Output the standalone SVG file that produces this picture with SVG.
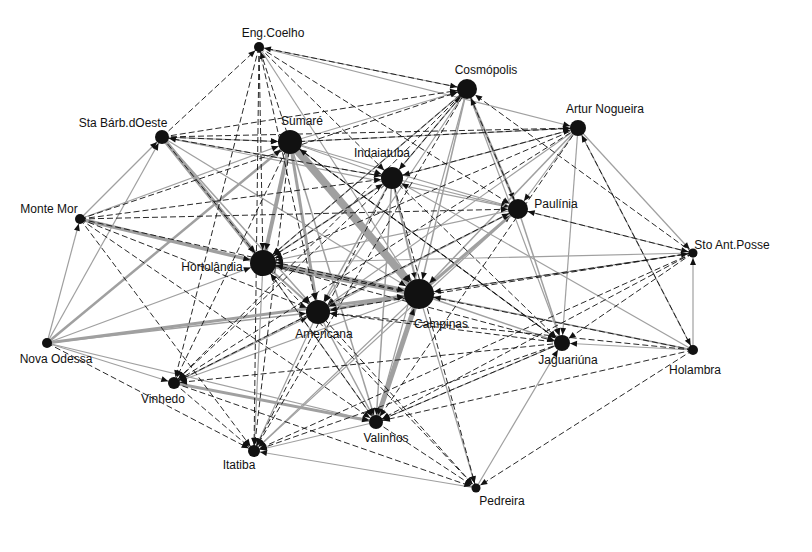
<svg xmlns="http://www.w3.org/2000/svg" width="812" height="552" viewBox="0 0 812 552">
<style>
.g{stroke:#a0a0a0;fill:none;stroke-width:1.2}
.w15{stroke-width:1.5}
.w2{stroke-width:2}
.w25{stroke-width:2.5}
.w3{stroke-width:3}
.w35{stroke-width:3.5}
.w4{stroke-width:4}
.w5{stroke-width:5}
.w6{stroke-width:6}
.w8{stroke-width:8}
.d{stroke:#111;fill:none;stroke-width:0.9;stroke-dasharray:6 3}
.n{fill:#111}
.t{font-family:"Liberation Sans","DejaVu Sans",sans-serif;font-size:12px;fill:#111;text-anchor:middle}
</style>
<defs>
<marker id="m5" markerWidth="8" markerHeight="8" refX="12" refY="0" orient="auto" markerUnits="userSpaceOnUse" overflow="visible"><path d="M0,-3L7,0L0,3z" fill="#111"/></marker>
<marker id="m6" markerWidth="8" markerHeight="8" refX="13" refY="0" orient="auto" markerUnits="userSpaceOnUse" overflow="visible"><path d="M0,-3L7,0L0,3z" fill="#111"/></marker>
<marker id="m7" markerWidth="8" markerHeight="8" refX="14" refY="0" orient="auto" markerUnits="userSpaceOnUse" overflow="visible"><path d="M0,-3L7,0L0,3z" fill="#111"/></marker>
<marker id="m8" markerWidth="8" markerHeight="8" refX="15" refY="0" orient="auto" markerUnits="userSpaceOnUse" overflow="visible"><path d="M0,-3L7,0L0,3z" fill="#111"/></marker>
<marker id="m10" markerWidth="8" markerHeight="8" refX="17" refY="0" orient="auto" markerUnits="userSpaceOnUse" overflow="visible"><path d="M0,-3L7,0L0,3z" fill="#111"/></marker>
<marker id="m11" markerWidth="8" markerHeight="8" refX="18" refY="0" orient="auto" markerUnits="userSpaceOnUse" overflow="visible"><path d="M0,-3L7,0L0,3z" fill="#111"/></marker>
<marker id="m12" markerWidth="8" markerHeight="8" refX="19" refY="0" orient="auto" markerUnits="userSpaceOnUse" overflow="visible"><path d="M0,-3L7,0L0,3z" fill="#111"/></marker>
<marker id="m13" markerWidth="8" markerHeight="8" refX="20" refY="0" orient="auto" markerUnits="userSpaceOnUse" overflow="visible"><path d="M0,-3L7,0L0,3z" fill="#111"/></marker>
<marker id="m15" markerWidth="8" markerHeight="8" refX="22" refY="0" orient="auto" markerUnits="userSpaceOnUse" overflow="visible"><path d="M0,-3L7,0L0,3z" fill="#111"/></marker>
</defs>
<rect width="812" height="552" fill="#fff"/>
<g id="connectors">
<g id="gray-edges">
<line class="g w8" x1="290" y1="142" x2="419" y2="294" marker-end="url(#m15)"/>
<line class="g w6" x1="419" y1="294" x2="263" y2="263" marker-end="url(#m13)"/>
<line class="g w4" x1="290" y1="142" x2="263" y2="263" marker-end="url(#m13)"/>
<line class="g w4" x1="162" y1="137" x2="263" y2="263" marker-end="url(#m13)"/>
<line class="g w5" x1="376" y1="422" x2="419" y2="294" marker-end="url(#m15)"/>
<line class="g w35" x1="80" y1="219" x2="263" y2="263" marker-end="url(#m13)"/>
<line class="g w3" x1="47" y1="343" x2="419" y2="294" marker-end="url(#m15)"/>
<line class="g w3" x1="174" y1="383" x2="376" y2="422" marker-end="url(#m7)"/>
<line class="g w3" x1="318" y1="312" x2="419" y2="294" marker-end="url(#m15)"/>
<line class="g w3" x1="419" y1="294" x2="518" y2="209" marker-end="url(#m10)"/>
<line class="g w2" x1="392" y1="178" x2="419" y2="294" marker-end="url(#m15)"/>
<line class="g w3" x1="290" y1="142" x2="318" y2="312" marker-end="url(#m12)"/>
<line class="g w2" x1="263" y1="263" x2="318" y2="312" marker-end="url(#m12)"/>
<line class="g w25" x1="467" y1="89" x2="518" y2="209" marker-end="url(#m10)"/>
<line class="g" x1="259" y1="47" x2="467" y2="89" marker-end="url(#m10)"/>
<line class="g" x1="259" y1="47" x2="578" y2="128" marker-end="url(#m8)"/>
<line class="g" x1="259" y1="47" x2="419" y2="294" marker-end="url(#m15)"/>
<line class="g" x1="162" y1="137" x2="290" y2="142" marker-end="url(#m12)"/>
<line class="g" x1="162" y1="137" x2="392" y2="178" marker-end="url(#m11)"/>
<line class="g" x1="162" y1="137" x2="419" y2="294" marker-end="url(#m15)"/>
<line class="g w15" x1="162" y1="137" x2="318" y2="312" marker-end="url(#m12)"/>
<line class="g" x1="162" y1="137" x2="518" y2="209" marker-end="url(#m10)"/>
<line class="g" x1="290" y1="142" x2="467" y2="89" marker-end="url(#m10)"/>
<line class="g" x1="290" y1="142" x2="578" y2="128" marker-end="url(#m8)"/>
<line class="g" x1="290" y1="142" x2="392" y2="178" marker-end="url(#m11)"/>
<line class="g" x1="290" y1="142" x2="518" y2="209" marker-end="url(#m10)"/>
<line class="g w15" x1="290" y1="142" x2="376" y2="422" marker-end="url(#m7)"/>
<line class="g" x1="290" y1="142" x2="562" y2="343" marker-end="url(#m8)"/>
<line class="g" x1="392" y1="178" x2="467" y2="89" marker-end="url(#m10)"/>
<line class="g" x1="392" y1="178" x2="578" y2="128" marker-end="url(#m8)"/>
<line class="g" x1="392" y1="178" x2="518" y2="209" marker-end="url(#m10)"/>
<line class="g w15" x1="392" y1="178" x2="318" y2="312" marker-end="url(#m12)"/>
<line class="g w15" x1="392" y1="178" x2="263" y2="263" marker-end="url(#m13)"/>
<line class="g w15" x1="392" y1="178" x2="376" y2="422" marker-end="url(#m7)"/>
<line class="g w15" x1="467" y1="89" x2="419" y2="294" marker-end="url(#m15)"/>
<line class="g" x1="467" y1="89" x2="318" y2="312" marker-end="url(#m12)"/>
<line class="g" x1="467" y1="89" x2="263" y2="263" marker-end="url(#m13)"/>
<line class="g" x1="467" y1="89" x2="562" y2="343" marker-end="url(#m8)"/>
<line class="g" x1="467" y1="89" x2="376" y2="422" marker-end="url(#m7)"/>
<line class="g" x1="578" y1="128" x2="518" y2="209" marker-end="url(#m10)"/>
<line class="g w15" x1="578" y1="128" x2="419" y2="294" marker-end="url(#m15)"/>
<line class="g" x1="578" y1="128" x2="562" y2="343" marker-end="url(#m8)"/>
<line class="g" x1="578" y1="128" x2="693" y2="253" marker-end="url(#m5)"/>
<line class="g" x1="578" y1="128" x2="693" y2="350" marker-end="url(#m5)"/>
<line class="g" x1="578" y1="128" x2="318" y2="312" marker-end="url(#m12)"/>
<line class="g w15" x1="518" y1="209" x2="562" y2="343" marker-end="url(#m8)"/>
<line class="g" x1="693" y1="253" x2="518" y2="209" marker-end="url(#m10)"/>
<line class="g" x1="518" y1="209" x2="263" y2="263" marker-end="url(#m13)"/>
<line class="g" x1="518" y1="209" x2="318" y2="312" marker-end="url(#m12)"/>
<line class="g" x1="518" y1="209" x2="254" y2="451" marker-end="url(#m6)"/>
<line class="g" x1="80" y1="219" x2="290" y2="142" marker-end="url(#m12)"/>
<line class="g" x1="80" y1="219" x2="162" y2="137" marker-end="url(#m7)"/>
<line class="g" x1="47" y1="343" x2="80" y2="219" marker-end="url(#m5)"/>
<line class="g" x1="47" y1="343" x2="162" y2="137" marker-end="url(#m7)"/>
<line class="g" x1="47" y1="343" x2="263" y2="263" marker-end="url(#m13)"/>
<line class="g w15" x1="47" y1="343" x2="318" y2="312" marker-end="url(#m12)"/>
<line class="g" x1="47" y1="343" x2="376" y2="422" marker-end="url(#m7)"/>
<line class="g w25" x1="47" y1="343" x2="290" y2="142" marker-end="url(#m12)"/>
<line class="g" x1="47" y1="343" x2="174" y2="383" marker-end="url(#m6)"/>
<line class="g" x1="263" y1="263" x2="376" y2="422" marker-end="url(#m7)"/>
<line class="g" x1="263" y1="263" x2="254" y2="451" marker-end="url(#m6)"/>
<line class="g w15" x1="419" y1="294" x2="562" y2="343" marker-end="url(#m8)"/>
<line class="g w15" x1="693" y1="350" x2="419" y2="294" marker-end="url(#m15)"/>
<line class="g" x1="693" y1="253" x2="419" y2="294" marker-end="url(#m15)"/>
<line class="g" x1="419" y1="294" x2="254" y2="451" marker-end="url(#m6)"/>
<line class="g" x1="419" y1="294" x2="476" y2="488" marker-end="url(#m5)"/>
<line class="g" x1="419" y1="294" x2="174" y2="383" marker-end="url(#m6)"/>
<line class="g w15" x1="318" y1="312" x2="376" y2="422" marker-end="url(#m7)"/>
<line class="g" x1="318" y1="312" x2="254" y2="451" marker-end="url(#m6)"/>
<line class="g" x1="174" y1="383" x2="318" y2="312" marker-end="url(#m12)"/>
<line class="g" x1="693" y1="350" x2="562" y2="343" marker-end="url(#m8)"/>
<line class="g" x1="693" y1="350" x2="693" y2="253" marker-end="url(#m5)"/>
<line class="g" x1="476" y1="488" x2="562" y2="343" marker-end="url(#m8)"/>
<line class="g" x1="376" y1="422" x2="254" y2="451" marker-end="url(#m6)"/>
<line class="g" x1="476" y1="488" x2="254" y2="451" marker-end="url(#m6)"/>
<line class="g" x1="174" y1="383" x2="518" y2="209" marker-end="url(#m10)"/>
<line class="g" x1="693" y1="350" x2="392" y2="178" marker-end="url(#m11)"/>
<line class="g" x1="562" y1="343" x2="376" y2="422" marker-end="url(#m7)"/>
<line class="g" x1="693" y1="253" x2="263" y2="263" marker-end="url(#m13)"/>
</g>
<g id="dashed-edges">
<line class="d" x1="162" y1="137" x2="259" y2="47" marker-end="url(#m5)"/>
<line class="d" x1="290" y1="142" x2="259" y2="47" marker-end="url(#m5)"/>
<line class="d" x1="259" y1="47" x2="392" y2="178" marker-end="url(#m11)"/>
<line class="d" x1="259" y1="47" x2="518" y2="209" marker-end="url(#m10)"/>
<line class="d" x1="259" y1="47" x2="263" y2="263" marker-end="url(#m13)"/>
<line class="d" x1="259" y1="47" x2="174" y2="383" marker-end="url(#m6)"/>
<line class="d" x1="259" y1="47" x2="254" y2="451" marker-end="url(#m6)"/>
<line class="d" x1="467" y1="89" x2="259" y2="47" marker-end="url(#m5)"/>
<line class="d" x1="259" y1="47" x2="318" y2="312" marker-end="url(#m12)"/>
<line class="d" x1="162" y1="137" x2="467" y2="89" marker-end="url(#m10)"/>
<line class="d" x1="162" y1="137" x2="578" y2="128" marker-end="url(#m8)"/>
<line class="d" x1="392" y1="178" x2="162" y2="137" marker-end="url(#m7)"/>
<line class="d" x1="162" y1="137" x2="290" y2="142" marker-end="url(#m12)"/>
<line class="d" x1="162" y1="137" x2="263" y2="263" marker-end="url(#m13)"/>
<line class="d" x1="80" y1="219" x2="392" y2="178" marker-end="url(#m11)"/>
<line class="d" x1="80" y1="219" x2="518" y2="209" marker-end="url(#m10)"/>
<line class="d" x1="80" y1="219" x2="318" y2="312" marker-end="url(#m12)"/>
<line class="d" x1="80" y1="219" x2="376" y2="422" marker-end="url(#m7)"/>
<line class="d" x1="80" y1="219" x2="254" y2="451" marker-end="url(#m6)"/>
<line class="d" x1="80" y1="219" x2="419" y2="294" marker-end="url(#m15)"/>
<line class="d" x1="80" y1="219" x2="467" y2="89" marker-end="url(#m10)"/>
<line class="d" x1="47" y1="343" x2="254" y2="451" marker-end="url(#m6)"/>
<line class="d" x1="290" y1="142" x2="562" y2="343" marker-end="url(#m8)"/>
<line class="d" x1="467" y1="89" x2="392" y2="178" marker-end="url(#m11)"/>
<line class="d" x1="467" y1="89" x2="263" y2="263" marker-end="url(#m13)"/>
<line class="d" x1="467" y1="89" x2="254" y2="451" marker-end="url(#m6)"/>
<line class="d" x1="467" y1="89" x2="174" y2="383" marker-end="url(#m6)"/>
<line class="d" x1="578" y1="128" x2="392" y2="178" marker-end="url(#m11)"/>
<line class="d" x1="578" y1="128" x2="263" y2="263" marker-end="url(#m13)"/>
<line class="d" x1="578" y1="128" x2="376" y2="422" marker-end="url(#m7)"/>
<line class="d" x1="578" y1="128" x2="174" y2="383" marker-end="url(#m6)"/>
<line class="d" x1="290" y1="142" x2="578" y2="128" marker-end="url(#m8)"/>
<line class="d" x1="392" y1="178" x2="562" y2="343" marker-end="url(#m8)"/>
<line class="d" x1="392" y1="178" x2="174" y2="383" marker-end="url(#m6)"/>
<line class="d" x1="392" y1="178" x2="254" y2="451" marker-end="url(#m6)"/>
<line class="d" x1="392" y1="178" x2="476" y2="488" marker-end="url(#m5)"/>
<line class="d" x1="518" y1="209" x2="693" y2="253" marker-end="url(#m5)"/>
<line class="d" x1="518" y1="209" x2="174" y2="383" marker-end="url(#m6)"/>
<line class="d" x1="693" y1="253" x2="562" y2="343" marker-end="url(#m8)"/>
<line class="d" x1="693" y1="253" x2="376" y2="422" marker-end="url(#m7)"/>
<line class="d" x1="693" y1="253" x2="318" y2="312" marker-end="url(#m12)"/>
<line class="d" x1="693" y1="253" x2="254" y2="451" marker-end="url(#m6)"/>
<line class="d" x1="693" y1="253" x2="467" y2="89" marker-end="url(#m10)"/>
<line class="d" x1="693" y1="350" x2="376" y2="422" marker-end="url(#m7)"/>
<line class="d" x1="693" y1="350" x2="476" y2="488" marker-end="url(#m5)"/>
<line class="d" x1="693" y1="350" x2="318" y2="312" marker-end="url(#m12)"/>
<line class="d" x1="693" y1="350" x2="263" y2="263" marker-end="url(#m13)"/>
<line class="d" x1="562" y1="343" x2="174" y2="383" marker-end="url(#m6)"/>
<line class="d" x1="562" y1="343" x2="254" y2="451" marker-end="url(#m6)"/>
<line class="d" x1="376" y1="422" x2="476" y2="488" marker-end="url(#m5)"/>
<line class="d" x1="174" y1="383" x2="476" y2="488" marker-end="url(#m5)"/>
<line class="d" x1="174" y1="383" x2="254" y2="451" marker-end="url(#m6)"/>
<line class="d" x1="263" y1="263" x2="476" y2="488" marker-end="url(#m5)"/>
<line class="d" x1="290" y1="142" x2="254" y2="451" marker-end="url(#m6)"/>
<line class="d" x1="290" y1="142" x2="174" y2="383" marker-end="url(#m6)"/>
<line class="d" x1="318" y1="312" x2="476" y2="488" marker-end="url(#m5)"/>
<line class="d" x1="562" y1="343" x2="376" y2="422" marker-end="url(#m7)"/>
<line class="d" x1="263" y1="263" x2="562" y2="343" marker-end="url(#m8)"/>
<line class="d" x1="376" y1="422" x2="263" y2="263" marker-end="url(#m13)"/>
<line class="d" x1="562" y1="343" x2="318" y2="312" marker-end="url(#m12)"/>
<line class="d" x1="518" y1="209" x2="467" y2="89" marker-end="url(#m10)"/>
<line class="d" x1="419" y1="294" x2="693" y2="253" marker-end="url(#m5)"/>
<line class="d" x1="693" y1="350" x2="578" y2="128" marker-end="url(#m8)"/>
<line class="d" x1="263" y1="263" x2="392" y2="178" marker-end="url(#m11)"/>
<line class="d" x1="562" y1="343" x2="290" y2="142" marker-end="url(#m12)"/>
</g>
</g>
<g id="node-EngCoelho"><circle class="n" cx="259" cy="47" r="5"/><text class="t" x="273" y="37">Eng.Coelho</text></g>
<g id="node-Cosmopolis"><circle class="n" cx="467" cy="89" r="10"/><text class="t" x="486" y="74">Cosmópolis</text></g>
<g id="node-ArturNogueira"><circle class="n" cx="578" cy="128" r="8"/><text class="t" x="605" y="113">Artur Nogueira</text></g>
<g id="node-StaBarbDOeste"><circle class="n" cx="162" cy="137" r="7"/><text class="t" x="123" y="127">Sta Bárb.dOeste</text></g>
<g id="node-Sumare"><circle class="n" cx="290" cy="142" r="12"/><text class="t" x="302" y="125">Sumaré</text></g>
<g id="node-Indaiatuba"><circle class="n" cx="392" cy="178" r="11"/><text class="t" x="382" y="157">Indaiatuba</text></g>
<g id="node-Paulinia"><circle class="n" cx="518" cy="209" r="10"/><text class="t" x="556" y="208">Paulínia</text></g>
<g id="node-MonteMor"><circle class="n" cx="80" cy="219" r="5"/><text class="t" x="49" y="213">Monte Mor</text></g>
<g id="node-StoAntPosse"><circle class="n" cx="693" cy="253" r="4.5"/><text class="t" x="732" y="249">Sto Ant.Posse</text></g>
<g id="node-Hortolandia"><circle class="n" cx="263" cy="263" r="13"/><text class="t" x="212" y="271">Hortolândia</text></g>
<g id="node-Campinas"><circle class="n" cx="419" cy="294" r="15"/><text class="t" x="441" y="328">Campinas</text></g>
<g id="node-Americana"><circle class="n" cx="318" cy="312" r="12"/><text class="t" x="324" y="338">Americana</text></g>
<g id="node-Jaguariuna"><circle class="n" cx="562" cy="343" r="8"/><text class="t" x="568" y="364">Jaguariúna</text></g>
<g id="node-Holambra"><circle class="n" cx="693" cy="350" r="5"/><text class="t" x="695" y="374">Holambra</text></g>
<g id="node-NovaOdessa"><circle class="n" cx="47" cy="343" r="5"/><text class="t" x="56" y="363">Nova Odessa</text></g>
<g id="node-Vinhedo"><circle class="n" cx="174" cy="383" r="6"/><text class="t" x="163" y="403">Vinhedo</text></g>
<g id="node-Valinhos"><circle class="n" cx="376" cy="422" r="7"/><text class="t" x="386" y="442">Valinhos</text></g>
<g id="node-Itatiba"><circle class="n" cx="254" cy="451" r="6"/><text class="t" x="239" y="469">Itatiba</text></g>
<g id="node-Pedreira"><circle class="n" cx="476" cy="488" r="4.5"/><text class="t" x="502" y="505">Pedreira</text></g>
</svg>
